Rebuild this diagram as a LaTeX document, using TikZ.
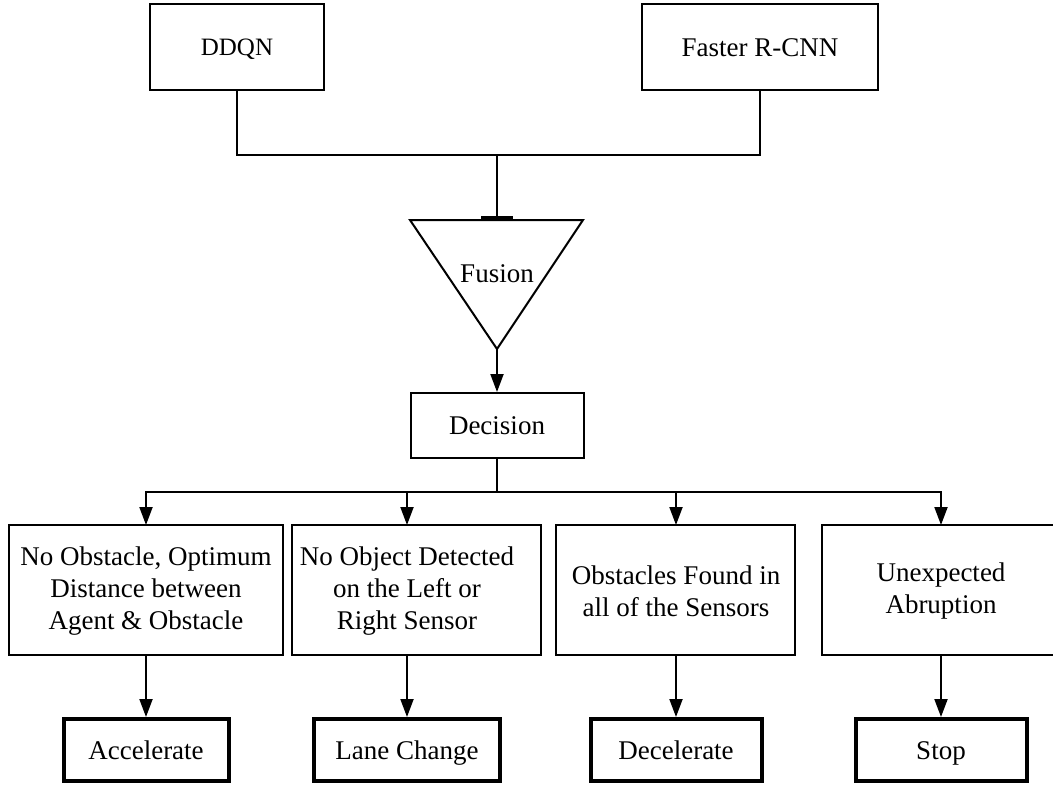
\documentclass[tikz,border=0pt]{standalone}
\usepackage{fontspec}
\setmainfont{Liberation Serif}
\usetikzlibrary{arrows.meta,calc}

\tikzset{
  thinbox/.style={draw, line width=2pt, rectangle, inner sep=0pt, align=center},
  thickbox/.style={draw, line width=4pt, rectangle, inner sep=0pt, align=center,
    font=\fontsize{27}{32}\selectfont, text height=18pt, text depth=0pt},
  oneline/.style={font=\fontsize{27}{32}\selectfont, text height=18pt, text depth=0pt},
  label27/.style={font=\fontsize{27}{32}\selectfont, align=center, inner sep=0pt},
  wire/.style={line width=2pt},
  flow/.style={line width=2pt, -{Triangle[length=18pt,width=13pt]}},
}

\begin{document}
\begin{tikzpicture}[x=1pt, y=-1pt]
  \useasboundingbox (0,0) rectangle (1053,787);
  \clip (0,0) rectangle (1053,787);

  % sources
  \node[thinbox, minimum width=174pt, minimum height=86pt,
    font=\fontsize{25}{30}\selectfont, text height=16.5pt, text depth=0pt]
    (ddqn) at (237,47) {DDQN};
  \node[thinbox, oneline, minimum width=236pt, minimum height=86pt]
    (rcnn) at (760,47) {Faster R-CNN};

  % fusion triangle
  \coordinate (fusTL) at (410,220);
  \coordinate (fusTR) at (583,220);
  \coordinate (fusB) at (497,349);
  \coordinate (fusT) at (497,220);
  \draw[wire, line join=miter] (fusTL) -- (fusTR) -- (fusB) -- cycle;
  \node[label27, oneline] (fusion) at (497,273) {Fusion};

  % merge of the two sources
  \coordinate (join) at (497,155);
  \draw[wire] (ddqn.south) |- (join);
  \draw[wire] (rcnn.south) |- (join);
  \draw[line width=2pt, -{Bar[width=32pt,line width=4pt]}] (join) -- (fusT);

  % decision
  \node[thinbox, oneline, minimum width=173pt, minimum height=65pt]
    (decision) at (497,425.5) {Decision};
  \draw[flow] (fusB) -- (decision.north);

  % conditions
  \node[thinbox, minimum width=274pt, minimum height=130pt] (c1) at (146,590) {};
  \node[label27] (t1) at (146,591) {No Obstacle, Optimum\\Distance between\\Agent \& Obstacle};
  \node[thinbox, minimum width=249pt, minimum height=130pt] (c2) at (416.5,590) {};
  \node[label27] (t2) at (407,591) {No Object Detected\\on the Left or\\Right Sensor};
  \node[thinbox, minimum width=239pt, minimum height=130pt] (c3) at (675.5,590) {};
  \node[label27] (t3) at (676,591) {Obstacles Found in\\all of the Sensors};
  \node[thinbox, minimum width=238pt, minimum height=130pt] (c4) at (941,590) {};
  \node[label27] (t4) at (941,591) {Unexpected\\Abruption};

  \coordinate (a1) at (146,525);
  \coordinate (a2) at (407,525);
  \coordinate (a3) at (676,525);
  \coordinate (a4) at (941,525);

  \coordinate (split) at (497,492);
  \draw[wire] (decision.south) -- (split);
  \draw[flow] (split) -| (a1);
  \draw[flow] (split) -| (a2);
  \draw[flow] (split) -| (a3);
  \draw[flow] (split) -| (a4);

  % actions
  \node[thickbox, minimum width=165pt, minimum height=62pt] (r1) at (146,750) {Accelerate};
  \node[thickbox, minimum width=186pt, minimum height=62pt] (r2) at (407,750) {Lane Change};
  \node[thickbox, minimum width=171pt, minimum height=62pt] (r3) at (676,750) {Decelerate};
  \node[thickbox, minimum width=171pt, minimum height=62pt] (r4) at (941,750) {Stop};

  \draw[flow] (c1.south -| r1.north) -- (r1.north);
  \draw[flow] (c2.south -| r2.north) -- (r2.north);
  \draw[flow] (c3.south -| r3.north) -- (r3.north);
  \draw[flow] (c4.south -| r4.north) -- (r4.north);
\end{tikzpicture}
\end{document}
